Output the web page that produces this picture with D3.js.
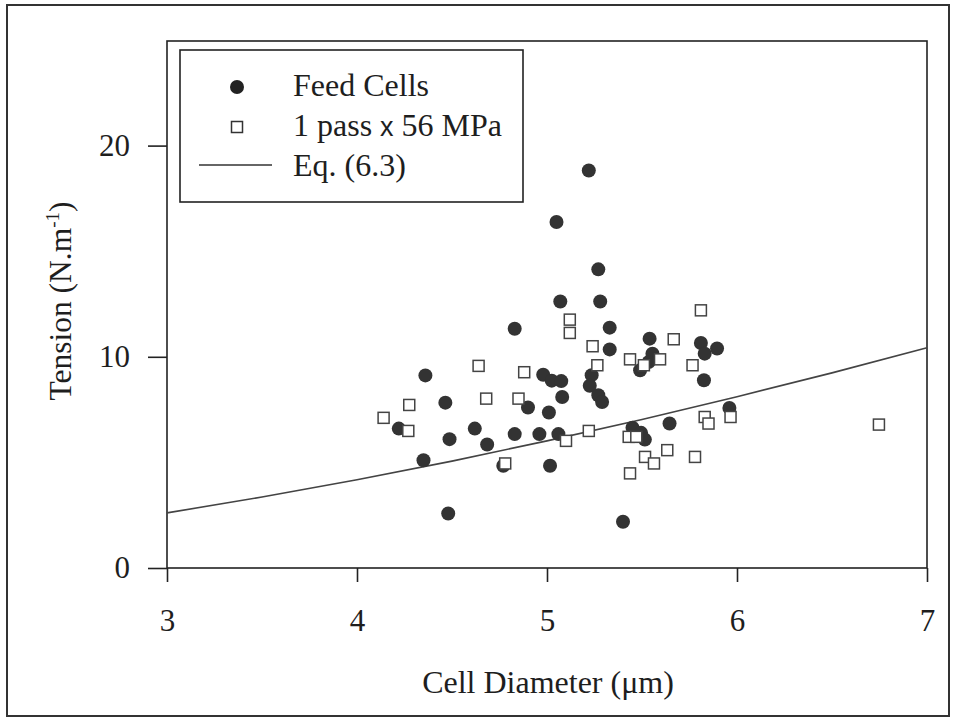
<!DOCTYPE html>
<html>
<head>
<meta charset="utf-8">
<script src="https://cdn.jsdelivr.net/npm/d3@7"></script>
<style>
  html, body { margin: 0; padding: 0; background: #fff; }
  svg text { font-family: "Liberation Serif", "Times New Roman", serif; fill: #1e1e1e; }
</style>
</head>
<body>
<svg id="chart" width="954" height="718"></svg>
<script>
// Feed cells: diameter (µm) and tension (N/m)
const feedDiameter = [5.22, 5.05, 5.27, 5.07, 5.28, 4.83, 5.33, 5.33, 4.36, 4.98,
  5.025, 5.075, 5.235, 5.225, 5.27, 5.29, 5.08, 4.465, 4.90, 5.01,
  4.22, 4.487, 4.62, 4.685, 4.83, 4.96, 5.06, 4.35, 4.77, 5.016,
  4.48, 5.40, 5.54, 5.555, 5.535, 5.49, 5.81, 5.83, 5.895, 5.826,
  5.96, 5.645, 5.45, 5.495, 5.515];
const feedTension = [18.82, 16.38, 14.14, 12.62, 12.62, 11.33, 11.38, 10.35, 9.12, 9.15,
  8.87, 8.85, 9.13, 8.63, 8.18, 7.86, 8.10, 7.83, 7.60, 7.36,
  6.60, 6.10, 6.60, 5.85, 6.34, 6.34, 6.34, 5.10, 4.84, 4.84,
  2.58, 2.19, 10.86, 10.15, 9.75, 9.36, 10.65, 10.15, 10.39, 8.89,
  7.58, 6.84, 6.64, 6.40, 6.08];

// Cells after 1 pass at 56 MPa
const passDiameter = [5.12, 5.12, 5.24, 5.265, 4.64, 4.88, 4.275, 4.68, 4.85, 4.14,
  4.27, 5.10, 5.22, 4.78, 5.81, 5.667, 5.437, 5.51, 5.595, 5.766,
  5.966, 5.83, 5.85, 5.43, 5.47, 5.516, 5.563, 5.633, 5.779, 5.437, 6.747];
const passTension = [11.76, 11.13, 10.50, 9.60, 9.57, 9.27, 7.72, 8.02, 8.02, 7.11,
  6.49, 6.02, 6.49, 4.95, 12.20, 10.83, 9.88, 9.60, 9.88, 9.60,
  7.15, 7.15, 6.84, 6.21, 6.21, 5.26, 4.95, 5.58, 5.26, 4.48, 6.79];

// Eq. (6.3) curve
const eqDiameter = [3, 3.5, 4, 4.5, 5, 5.5, 6, 6.5, 7];
const eqTension = [2.61, 3.36, 4.18, 5.06, 6.02, 7.03, 8.11, 9.24, 10.43];

const xTicks = [3, 4, 5, 6, 7];
const yTicks = [0, 10, 20];
const legendLabels = ["Feed Cells", "1 pass x 56 MPa", "Eq. (6.3)"];

const svg = d3.select("#chart");
const plot = { left: 167, right: 927, top: 41, bottom: 568 };

const x = d3.scaleLinear().domain([3, 7]).range([plot.left, plot.right]);
const y = d3.scaleLinear().domain([0, 25]).range([plot.bottom, 40]);

// outer frame
svg.append("rect")
  .attr("x", 7).attr("y", 5).attr("width", 942).attr("height", 711)
  .attr("fill", "none").attr("stroke", "#333").attr("stroke-width", 2);

// plot frame
svg.append("rect")
  .attr("x", plot.left).attr("y", plot.top)
  .attr("width", plot.right - plot.left).attr("height", plot.bottom - plot.top)
  .attr("fill", "none").attr("stroke", "#222").attr("stroke-width", 1.6);

// axes
const xAxis = svg.append("g")
  .attr("transform", `translate(0,${plot.bottom})`)
  .call(d3.axisBottom(x).tickValues(xTicks).tickSize(14).tickPadding(27).tickFormat(d3.format("d")));
const yAxis = svg.append("g")
  .attr("transform", `translate(${plot.left},0)`)
  .call(d3.axisLeft(y).tickValues(yTicks).tickSize(19).tickPadding(18).tickFormat(d3.format("d")));

[xAxis, yAxis].forEach(g => {
  g.select(".domain").remove();
  g.selectAll(".tick line").attr("stroke", "#222").attr("stroke-width", 1.6);
  g.selectAll(".tick text")
    .style("font-family", '"Liberation Serif", "Times New Roman", serif')
    .style("font-size", "31px").attr("fill", "#1e1e1e");
});

// axis titles
svg.append("text")
  .attr("x", 548).attr("y", 693)
  .attr("text-anchor", "middle")
  .style("font-size", "32px")
  .text("Cell Diameter (\u03bcm)");

const yTitle = svg.append("text")
  .attr("transform", "translate(71,301) rotate(-90)")
  .attr("text-anchor", "middle")
  .style("font-size", "31.5px");
yTitle.append("tspan").text("Tension (N.m");
yTitle.append("tspan").attr("dy", -12).style("font-size", "19px").text("-1");
yTitle.append("tspan").attr("dy", 12).text(")");

// Eq. (6.3) curve
const eqData = eqDiameter.map((d, i) => [d, eqTension[i]]);
svg.append("path")
  .datum(eqData)
  .attr("fill", "none")
  .attr("stroke", "#444")
  .attr("stroke-width", 1.6)
  .attr("d", d3.line().x(d => x(d[0])).y(d => y(d[1])).curve(d3.curveMonotoneX));

// Feed cells
const feedData = feedDiameter.map((d, i) => [d, feedTension[i]]);
svg.append("g").selectAll("circle")
  .data(feedData)
  .join("circle")
  .attr("cx", d => x(d[0]))
  .attr("cy", d => y(d[1]))
  .attr("r", 7)
  .attr("fill", "#333");

// 1 pass x 56 MPa
const sq = 11;
const passData = passDiameter.map((d, i) => [d, passTension[i]]);
svg.append("g").selectAll("rect")
  .data(passData)
  .join("rect")
  .attr("x", d => x(d[0]) - sq / 2)
  .attr("y", d => y(d[1]) - sq / 2)
  .attr("width", sq).attr("height", sq)
  .attr("fill", "#fff")
  .attr("stroke", "#444")
  .attr("stroke-width", 1.5);

// legend
const legend = svg.append("g");
legend.append("rect")
  .attr("x", 180).attr("y", 50).attr("width", 343).attr("height", 152)
  .attr("fill", "#fff").attr("stroke", "#222").attr("stroke-width", 1.6);

legend.append("circle").attr("cx", 237).attr("cy", 87).attr("r", 7).attr("fill", "#222");
legend.append("rect").attr("x", 237 - 5.5).attr("y", 127 - 5.5).attr("width", 11).attr("height", 11)
  .attr("fill", "#fff").attr("stroke", "#333").attr("stroke-width", 1.5);
legend.append("line").attr("x1", 199).attr("x2", 272).attr("y1", 165).attr("y2", 165)
  .attr("stroke", "#333").attr("stroke-width", 1.6);

const baselines = [96, 136, 176];
legend.append("text").attr("x", 293).attr("y", baselines[0]).style("font-size", "32px").text(legendLabels[0]);
const passLabel = legend.append("text").attr("x", 293).attr("y", baselines[1]).style("font-size", "32px");
const parts = legendLabels[1].split(" x ");
passLabel.append("tspan").text(parts[0] + " ");
passLabel.append("tspan").style("font-family", '"Liberation Sans", Arial, sans-serif').style("font-size", "27px").text("x");
passLabel.append("tspan").text(" " + parts[1]);
legend.append("text").attr("x", 293).attr("y", baselines[2]).style("font-size", "32px").text(legendLabels[2]);
</script>
</body>
</html>
